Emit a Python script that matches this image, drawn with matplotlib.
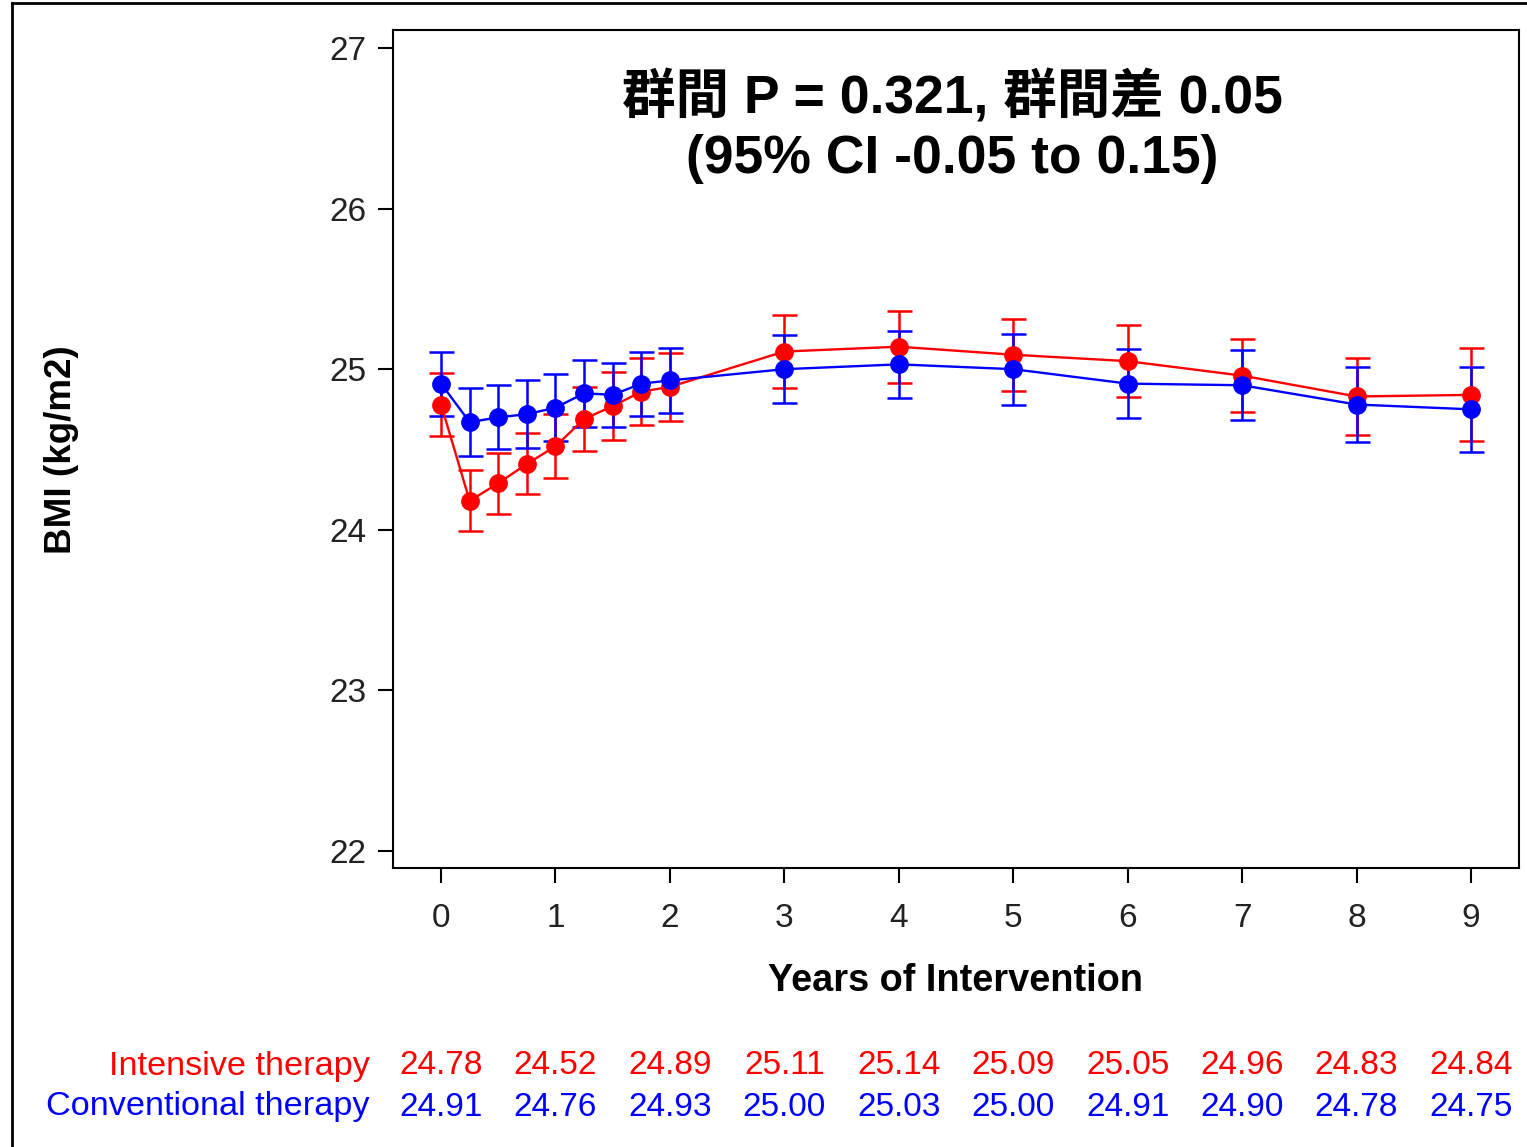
import matplotlib
matplotlib.use('Agg')
from matplotlib import pyplot as plt
from matplotlib.lines import Line2D
from matplotlib.transforms import blended_transform_factory

plt.rcParams['font.family'] = ['Liberation Sans', 'DejaVu Sans']

# visit times (years)
years = [0, 0.25, 0.5, 0.75, 1, 1.25, 1.5, 1.75, 2, 3, 4, 5, 6, 7, 8, 9]

# BMI means and error bar half widths
intensive = [24.78, 24.18, 24.29, 24.41, 24.52, 24.69, 24.77, 24.86, 24.89,
             25.11, 25.14, 25.09, 25.05, 24.96, 24.83, 24.84]
intensive_err = [0.195, 0.19, 0.19, 0.19, 0.20, 0.20, 0.21, 0.21, 0.21,
                 0.225, 0.225, 0.225, 0.225, 0.225, 0.24, 0.29]
conventional = [24.91, 24.67, 24.70, 24.72, 24.76, 24.85, 24.84, 24.91, 24.93,
                25.00, 25.03, 25.00, 24.91, 24.90, 24.78, 24.75]
conventional_err = [0.20, 0.21, 0.20, 0.21, 0.21, 0.21, 0.20, 0.20, 0.20,
                    0.21, 0.21, 0.22, 0.215, 0.217, 0.232, 0.263]

# table under the plot
table_years = [0, 1, 2, 3, 4, 5, 6, 7, 8, 9]
table_intensive = ['24.78', '24.52', '24.89', '25.11', '25.14', '25.09', '25.05', '24.96', '24.83', '24.84']
table_conventional = ['24.91', '24.76', '24.93', '25.00', '25.03', '25.00', '24.91', '24.90', '24.78', '24.75']

RED = '#ff0000'
BLUE = '#0000ff'

fig = plt.figure(figsize=(15.27, 11.47), dpi=100)
ax = fig.add_axes([393 / 1527, 1 - 868 / 1147, (1519 - 393) / 1527, (868 - 30) / 1147])

for vals, errs, col in [(intensive, intensive_err, RED), (conventional, conventional_err, BLUE)]:
	ax.errorbar(years, vals, yerr=errs, color=col, marker='o', markersize=12.5,
	            linewidth=1.7, elinewidth=1.8, capsize=9, capthick=1.8)

ax.set_xlim(-0.42, 9.42)
ax.set_ylim(21.894, 27.112)
ax.set_xticks(range(10))
ax.set_yticks([22, 23, 24, 25, 26, 27])
ax.tick_params(direction='out', length=11, width=1.5, labelsize=24, colors='black')
ax.tick_params(axis='x', pad=14)
ax.tick_params(axis='y', pad=8)
for lab in ax.get_xticklabels() + ax.get_yticklabels():
	lab.set_color('#222222')
for s in ax.spines.values():
	s.set_linewidth(1.5)

# labels
fig.text(62 / 1527, 1 - 450 / 1147, 'BMI (kg/m2)', rotation=90, fontsize=26.5,
         fontweight='bold', ha='center', va='center')
fig.text(955 / 1527, 1 - 981 / 1147, 'Years of Intervention', fontsize=27.3,
         fontweight='bold', ha='center', va='center')

# annotation
cjk = ['Liberation Sans', 'Noto Sans CJK JP']
fig.text(952 / 1527, 1 - 97 / 1147, '群間 P = 0.321, 群間差 0.05', fontsize=38.5,
         fontweight='bold', family=cjk, ha='center', va='center')
fig.text(952 / 1527, 1 - 159 / 1147, '(95% CI -0.05 to 0.15)', fontsize=38.5,
         fontweight='bold', family=cjk, ha='center', va='center')

# table of means
tr = blended_transform_factory(ax.transData, fig.transFigure)
row1, row2 = 1 - 1066 / 1147, 1 - 1107 / 1147
fig.text(370 / 1527, row1, 'Intensive therapy', color=RED, fontsize=24.7, ha='right', va='center')
fig.text(370 / 1527, row2, 'Conventional therapy', color=BLUE, fontsize=24.7, ha='right', va='center')
for x, a, b in zip(table_years, table_intensive, table_conventional):
	ax.text(x, row1, a, transform=tr, color=RED, fontsize=24, ha='center', va='center')
	ax.text(x, row2, b, transform=tr, color=BLUE, fontsize=24, ha='center', va='center')

# outer frame (top and left)
fig.add_artist(Line2D([12 / 1527, 1.0], [1 - 3 / 1147, 1 - 3 / 1147], color='black', linewidth=2,
                      transform=fig.transFigure))
fig.add_artist(Line2D([12 / 1527, 12 / 1527], [0, 1 - 3 / 1147], color='black', linewidth=2,
                      transform=fig.transFigure))

fig.savefig('out.png', dpi=100)
